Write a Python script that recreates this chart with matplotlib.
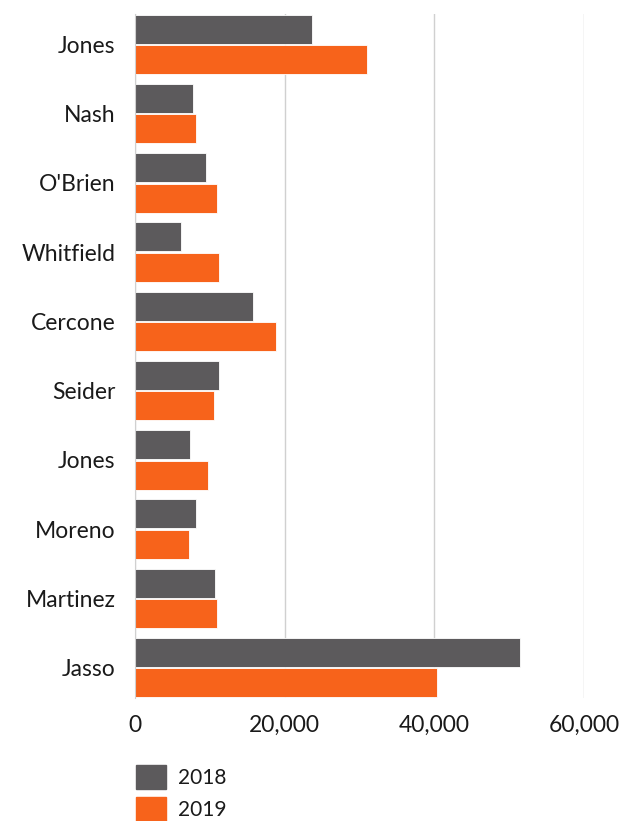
import matplotlib
matplotlib.use("Agg")
import matplotlib.pyplot as plt
import numpy as np
from matplotlib.patches import Patch

# data
names = ["Jones", "Nash", "O'Brien", "Whitfield", "Cercone",
         "Seider", "Jones", "Moreno", "Martinez", "Jasso"]
sales_2018 = [23700, 7700, 9500, 6100, 15800, 11200, 7300, 8100, 10700, 51500]
sales_2019 = [31000, 8200, 10900, 11200, 18900, 10500, 9800, 7200, 10900, 40300]
xticks = [0, 20000, 40000, 60000]

c2018 = "#5c5a5c"
c2019 = "#f7631b"
txt = "#1a1a1a"

plt.rcParams["font.family"] = ["Lato", "DejaVu Sans"]

fig = plt.figure(figsize=(6.35, 8.21), dpi=100)
ax = fig.add_axes([135 / 635, 1 - 698 / 821, 449 / 635, 684 / 821])

y = np.arange(len(names))
h = 0.42
ax.barh(y - 0.22, sales_2018, height=h, color=c2018, edgecolor="white",
        linewidth=0.6, label="2018", zorder=3)
ax.barh(y + 0.22, sales_2019, height=h, color=c2019, edgecolor="white",
        linewidth=0.6, label="2019", zorder=3)

ax.set_ylim(9.44, -0.44)
ax.set_xlim(0, 60000)
ax.set_yticks(y)
ax.set_yticklabels(names, fontsize=16.5, color=txt)
ax.set_xticks(xticks)
ax.set_xticklabels([f"{v:,}" for v in xticks], fontsize=16.5, color=txt)
ax.tick_params(axis="y", length=0, pad=14)
ax.tick_params(axis="x", length=0, pad=12)

ax.grid(axis="x", color="#d0d0d0", linewidth=1, zorder=0)
for s in ["top", "right", "bottom"]:
    ax.spines[s].set_visible(False)
ax.spines["left"].set_color("#d0d0d0")
ax.spines["left"].set_zorder(4)

handles = [Patch(color=c2018), Patch(color=c2019)]
fig.legend(handles, ["2018", "2019"], loc="upper left",
           bbox_to_anchor=(126 / 635, 1 - 755 / 821), frameon=False,
           fontsize=15, handlelength=1.4, handleheight=1.4,
           handletextpad=0.6, labelspacing=0.35, borderpad=0,
           labelcolor=txt)

fig.savefig("out.png", dpi=100, facecolor="white")
